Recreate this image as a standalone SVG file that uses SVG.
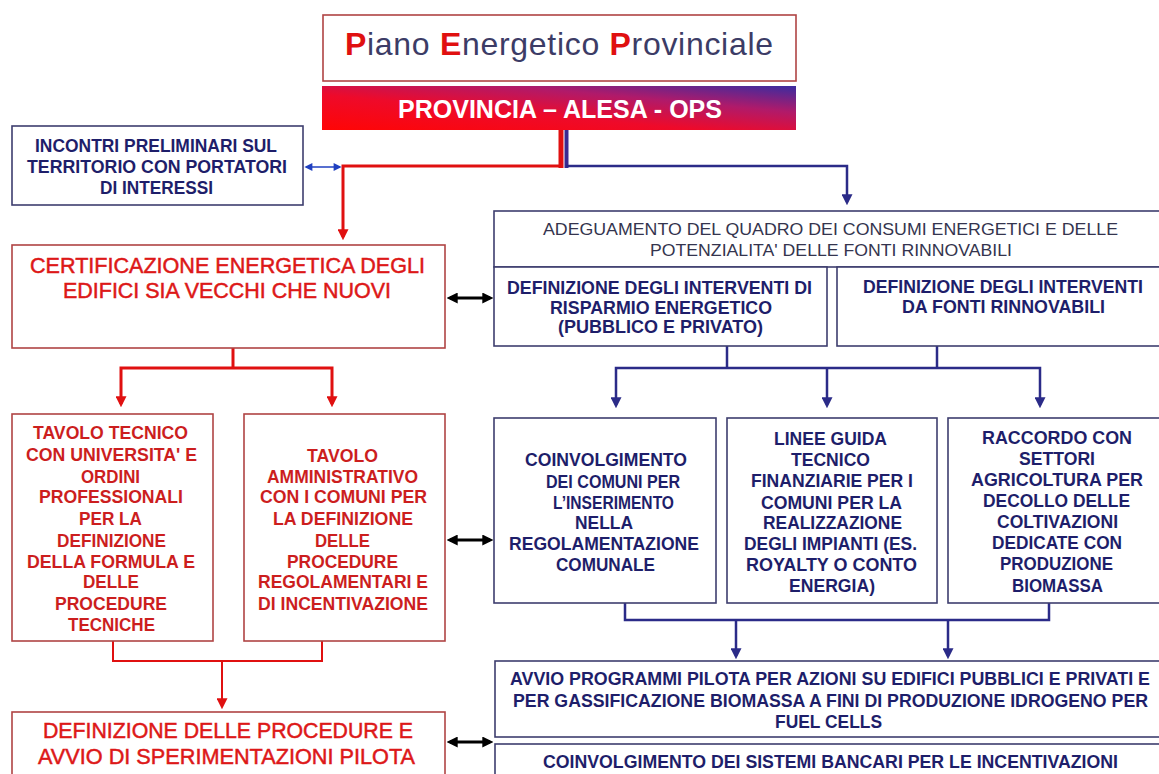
<svg xmlns="http://www.w3.org/2000/svg" width="1159" height="774" viewBox="0 0 1159 774">
<defs>
<linearGradient id="bar" x1="0" y1="1" x2="1" y2="0">
<stop offset="0" stop-color="#ff0505"/>
<stop offset="0.4" stop-color="#ee0a2a"/>
<stop offset="0.7" stop-color="#b01a6a"/>
<stop offset="1" stop-color="#3a2ca0"/>
</linearGradient>
<marker id="ar" viewBox="0 0 10 10" refX="7" refY="5" markerWidth="11" markerHeight="11" markerUnits="userSpaceOnUse" orient="auto-start-reverse"><path d="M0,0 L10,5 L0,10 z" fill="#e01010"/></marker>
<marker id="ab" viewBox="0 0 10 10" refX="7" refY="5" markerWidth="11" markerHeight="11" markerUnits="userSpaceOnUse" orient="auto-start-reverse"><path d="M0,0 L10,5 L0,10 z" fill="#2b2b88"/></marker>
<marker id="abs" viewBox="0 0 10 10" refX="8" refY="5" markerWidth="9" markerHeight="8" markerUnits="userSpaceOnUse" orient="auto-start-reverse"><path d="M0,0 L10,5 L0,10 z" fill="#2040c0"/></marker>
<marker id="ak" viewBox="0 0 10 10" refX="7" refY="5" markerWidth="11" markerHeight="11" markerUnits="userSpaceOnUse" orient="auto-start-reverse"><path d="M0,0 L10,5 L0,10 z" fill="#000"/></marker>
</defs>
<style>
.rbox{fill:#fff;stroke:#b04444;stroke-width:1.6}
.bbox{fill:#fff;stroke:#3e3e6e;stroke-width:1.6}
.rt{font-family:"Liberation Sans",Arial,sans-serif;fill:#dd1818;stroke:#dd1818;stroke-width:0.5;text-anchor:middle;font-size:22px}
.rn{font-family:"Liberation Sans Narrow","Liberation Sans",Arial,sans-serif;font-weight:bold;fill:#cc1e1e;text-anchor:middle;font-size:19px}
.bn{font-family:"Liberation Sans Narrow","Liberation Sans",Arial,sans-serif;font-weight:bold;fill:#1e1e6a;text-anchor:middle;font-size:18px}
.bt{font-family:"Liberation Sans Narrow","Liberation Sans",Arial,sans-serif;fill:#34344e;text-anchor:middle;font-size:17px}
.cr{stroke:#e01010;fill:none;stroke-width:3}
.cr2{stroke:#e01010;fill:none;stroke-width:2}
.cb{stroke:#2b2b88;fill:none;stroke-width:2.5}
.ck{stroke:#000;fill:none;stroke-width:3}
</style>
<rect width="1159" height="774" fill="#fff"/>

<g id="title">
<rect class="rbox" x="323" y="15" width="473" height="66"/>
<text x="559" y="55" font-family="Liberation Sans, Arial, sans-serif" font-size="32" text-anchor="middle" fill="#3c3c66" textLength="428" lengthAdjust="spacing"><tspan fill="#e01010" font-weight="bold">P</tspan>iano <tspan fill="#e01010" font-weight="bold">E</tspan>nergetico <tspan fill="#e01010" font-weight="bold">P</tspan>rovinciale</text>
</g>
<g id="bar-node">
<rect x="322" y="86" width="474" height="44" fill="url(#bar)"/>
<text x="560" y="118" font-family="Liberation Sans, Arial, sans-serif" font-size="25" font-weight="bold" fill="#fff" text-anchor="middle" textLength="324" lengthAdjust="spacingAndGlyphs">PROVINCIA – ALESA - OPS</text>
</g>

<g id="connectors">
<path d="M561,130 V168" stroke="#e01010" stroke-width="5" fill="none"/>
<path d="M566.5,130 V168" stroke="#3a2a90" stroke-width="4" fill="none"/>
<path class="cr" d="M563,166 H343 V237" marker-end="url(#ar)"/>
<path class="cb" d="M566,166 H847 V202" marker-end="url(#ab)"/>
<path d="M306,167 H340" stroke="#2040c0" stroke-width="1.6" fill="none" marker-start="url(#abs)" marker-end="url(#abs)"/>
<path class="ck" d="M450,298 H490" marker-start="url(#ak)" marker-end="url(#ak)"/>
<path class="cr" d="M233,348 V368"/>
<path class="cr" d="M121,404 V368 H332 V404" marker-start="url(#ar)" marker-end="url(#ar)"/>
<path class="ck" d="M450,540 H490" marker-start="url(#ak)" marker-end="url(#ak)"/>
<path class="cr2" d="M113,641 V661 H322 V641"/>
<path class="cr2" d="M222,661 V706" marker-end="url(#ar)"/>
<path class="ck" d="M450,742 H490" marker-start="url(#ak)" marker-end="url(#ak)"/>
<path class="cb" d="M727,346 V368"/>
<path class="cb" d="M937,346 V368"/>
<path class="cb" d="M616,405 V368 H1040 V405" marker-start="url(#ab)" marker-end="url(#ab)"/>
<path class="cb" d="M827,368 V405" marker-end="url(#ab)"/>
<path class="cb" d="M625,603 V620 H1049 V603"/>
<path class="cb" d="M736,620 V656" marker-end="url(#ab)"/>
<path class="cb" d="M948,620 V656" marker-end="url(#ab)"/>
</g>

<g id="incontri">
<rect class="bbox" x="12" y="126" width="291" height="79"/>
<text class="bn" x="156" y="152" font-size="19" textLength="242" lengthAdjust="spacingAndGlyphs">INCONTRI PRELIMINARI SUL</text>
<text class="bn" x="157" y="173" font-size="19" textLength="260" lengthAdjust="spacingAndGlyphs">TERRITORIO CON PORTATORI</text>
<text class="bn" x="156.5" y="194" font-size="19" textLength="113" lengthAdjust="spacingAndGlyphs">DI INTERESSI</text>
</g>

<g id="certificazione">
<rect class="rbox" x="12" y="245" width="433" height="103"/>
<text class="rt" x="227.5" y="273" textLength="395" lengthAdjust="spacingAndGlyphs">CERTIFICAZIONE ENERGETICA DEGLI</text>
<text class="rt" x="227" y="298" textLength="328" lengthAdjust="spacingAndGlyphs">EDIFICI SIA VECCHI CHE NUOVI</text>
</g>

<g id="adeguamento">
<rect class="bbox" x="494" y="211" width="675" height="56"/>
<text class="bt" x="830.5" y="235" textLength="575" lengthAdjust="spacingAndGlyphs">ADEGUAMENTO DEL QUADRO DEI CONSUMI ENERGETICI E DELLE</text>
<text class="bt" x="831" y="256" textLength="362" lengthAdjust="spacingAndGlyphs">POTENZIALITA' DELLE FONTI RINNOVABILI</text>
</g>

<g id="risparmio">
<rect class="bbox" x="494" y="267" width="333" height="79"/>
<text class="bn" x="659.5" y="294" font-size="19" textLength="305" lengthAdjust="spacingAndGlyphs">DEFINIZIONE DEGLI INTERVENTI DI</text>
<text class="bn" x="661" y="314" font-size="19" textLength="222" lengthAdjust="spacingAndGlyphs">RISPARMIO ENERGETICO</text>
<text class="bn" x="660.5" y="333" font-size="19" textLength="205" lengthAdjust="spacingAndGlyphs">(PUBBLICO E PRIVATO)</text>
</g>

<g id="rinnovabili">
<rect class="bbox" x="837" y="267" width="330" height="79"/>
<text class="bn" x="1003" y="293" font-size="19" textLength="280" lengthAdjust="spacingAndGlyphs">DEFINIZIONE DEGLI INTERVENTI</text>
<text class="bn" x="1003.5" y="313" font-size="19" textLength="203" lengthAdjust="spacingAndGlyphs">DA FONTI RINNOVABILI</text>
</g>

<g id="tavolo-tecnico">
<rect class="rbox" x="12" y="414" width="201" height="227"/>
<text class="rn" x="110.5" y="439" textLength="155" lengthAdjust="spacingAndGlyphs">TAVOLO TECNICO</text>
<text class="rn" x="111.5" y="461" textLength="171" lengthAdjust="spacingAndGlyphs">CON UNIVERSITA' E</text>
<text class="rn" x="110.5" y="483" textLength="59" lengthAdjust="spacingAndGlyphs">ORDINI</text>
<text class="rn" x="111" y="503" textLength="144" lengthAdjust="spacingAndGlyphs">PROFESSIONALI</text>
<text class="rn" x="110.5" y="525" textLength="63" lengthAdjust="spacingAndGlyphs">PER LA</text>
<text class="rn" x="111.5" y="547" textLength="109" lengthAdjust="spacingAndGlyphs">DEFINIZIONE</text>
<text class="rn" x="111" y="568" textLength="168" lengthAdjust="spacingAndGlyphs">DELLA FORMULA E</text>
<text class="rn" x="111" y="588" textLength="56" lengthAdjust="spacingAndGlyphs">DELLE</text>
<text class="rn" x="111" y="610" textLength="112" lengthAdjust="spacingAndGlyphs">PROCEDURE</text>
<text class="rn" x="111.5" y="631" textLength="87" lengthAdjust="spacingAndGlyphs">TECNICHE</text>
</g>

<g id="tavolo-amministrativo">
<rect class="rbox" x="244" y="414" width="201" height="227"/>
<text class="rn" x="342.5" y="462" textLength="71" lengthAdjust="spacingAndGlyphs">TAVOLO</text>
<text class="rn" x="342.5" y="483" textLength="151" lengthAdjust="spacingAndGlyphs">AMMINISTRATIVO</text>
<text class="rn" x="343.5" y="503" textLength="167" lengthAdjust="spacingAndGlyphs">CON I COMUNI PER</text>
<text class="rn" x="343" y="525" textLength="140" lengthAdjust="spacingAndGlyphs">LA DEFINIZIONE</text>
<text class="rn" x="342.5" y="547" textLength="55" lengthAdjust="spacingAndGlyphs">DELLE</text>
<text class="rn" x="342.5" y="568" textLength="111" lengthAdjust="spacingAndGlyphs">PROCEDURE</text>
<text class="rn" x="343" y="588" textLength="170" lengthAdjust="spacingAndGlyphs">REGOLAMENTARI E</text>
<text class="rn" x="343" y="610" textLength="170" lengthAdjust="spacingAndGlyphs">DI INCENTIVAZIONE</text>
</g>

<g id="coinvolgimento-comuni">
<rect class="bbox" x="494" y="418" width="222" height="185"/>
<text class="bn" x="606" y="466" textLength="162" lengthAdjust="spacingAndGlyphs">COINVOLGIMENTO</text>
<text class="bn" x="613" y="488" textLength="134" lengthAdjust="spacingAndGlyphs">DEI COMUNI PER</text>
<text class="bn" x="613.5" y="509" textLength="121" lengthAdjust="spacingAndGlyphs">L’INSERIMENTO</text>
<text class="bn" x="604" y="529" textLength="58" lengthAdjust="spacingAndGlyphs">NELLA</text>
<text class="bn" x="604" y="550" textLength="190" lengthAdjust="spacingAndGlyphs">REGOLAMENTAZIONE</text>
<text class="bn" x="605.5" y="571" textLength="99" lengthAdjust="spacingAndGlyphs">COMUNALE</text>
</g>

<g id="linee-guida">
<rect class="bbox" x="727" y="418" width="210" height="185"/>
<text class="bn" x="830.5" y="445" textLength="113" lengthAdjust="spacingAndGlyphs">LINEE GUIDA</text>
<text class="bn" x="830.5" y="466" textLength="79" lengthAdjust="spacingAndGlyphs">TECNICO</text>
<text class="bn" x="832" y="487" textLength="162" lengthAdjust="spacingAndGlyphs">FINANZIARIE PER I</text>
<text class="bn" x="831.5" y="509" textLength="141" lengthAdjust="spacingAndGlyphs">COMUNI PER LA</text>
<text class="bn" x="832.5" y="529" textLength="139" lengthAdjust="spacingAndGlyphs">REALIZZAZIONE</text>
<text class="bn" x="830.5" y="550" textLength="173" lengthAdjust="spacingAndGlyphs">DEGLI IMPIANTI (ES.</text>
<text class="bn" x="831.5" y="571" textLength="171" lengthAdjust="spacingAndGlyphs">ROYALTY O CONTO</text>
<text class="bn" x="832" y="592" textLength="86" lengthAdjust="spacingAndGlyphs">ENERGIA)</text>
</g>

<g id="raccordo">
<rect class="bbox" x="948" y="418" width="220" height="185"/>
<text class="bn" x="1057" y="444" textLength="150" lengthAdjust="spacingAndGlyphs">RACCORDO CON</text>
<text class="bn" x="1057" y="465" textLength="76" lengthAdjust="spacingAndGlyphs">SETTORI</text>
<text class="bn" x="1057" y="486" textLength="172" lengthAdjust="spacingAndGlyphs">AGRICOLTURA PER</text>
<text class="bn" x="1056.5" y="507" textLength="147" lengthAdjust="spacingAndGlyphs">DECOLLO DELLE</text>
<text class="bn" x="1057.5" y="528" textLength="121" lengthAdjust="spacingAndGlyphs">COLTIVAZIONI</text>
<text class="bn" x="1057" y="549" textLength="130" lengthAdjust="spacingAndGlyphs">DEDICATE CON</text>
<text class="bn" x="1056.5" y="570" textLength="113" lengthAdjust="spacingAndGlyphs">PRODUZIONE</text>
<text class="bn" x="1057.5" y="592" textLength="91" lengthAdjust="spacingAndGlyphs">BIOMASSA</text>
</g>

<g id="avvio-programmi">
<rect class="bbox" x="495" y="661" width="675" height="76"/>
<text class="bn" x="830" y="685" textLength="640" lengthAdjust="spacingAndGlyphs">AVVIO PROGRAMMI PILOTA PER AZIONI SU EDIFICI PUBBLICI E PRIVATI E</text>
<text class="bn" x="830.5" y="707" textLength="635" lengthAdjust="spacingAndGlyphs">PER GASSIFICAZIONE BIOMASSA A FINI DI PRODUZIONE IDROGENO PER</text>
<text class="bn" x="828.5" y="728" textLength="107" lengthAdjust="spacingAndGlyphs">FUEL CELLS</text>
</g>

<g id="sistemi-bancari">
<rect class="bbox" x="495" y="744" width="675" height="40"/>
<text class="bn" x="830.5" y="768" textLength="575" lengthAdjust="spacingAndGlyphs">COINVOLGIMENTO DEI SISTEMI BANCARI PER LE INCENTIVAZIONI</text>
</g>

<g id="definizione-procedure">
<rect class="rbox" x="12" y="712" width="433" height="72"/>
<text class="rt" x="228" y="738" textLength="370" lengthAdjust="spacingAndGlyphs">DEFINIZIONE DELLE PROCEDURE E</text>
<text class="rt" x="226.5" y="764" textLength="377" lengthAdjust="spacingAndGlyphs">AVVIO DI SPERIMENTAZIONI PILOTA</text>
</g>
</svg>
